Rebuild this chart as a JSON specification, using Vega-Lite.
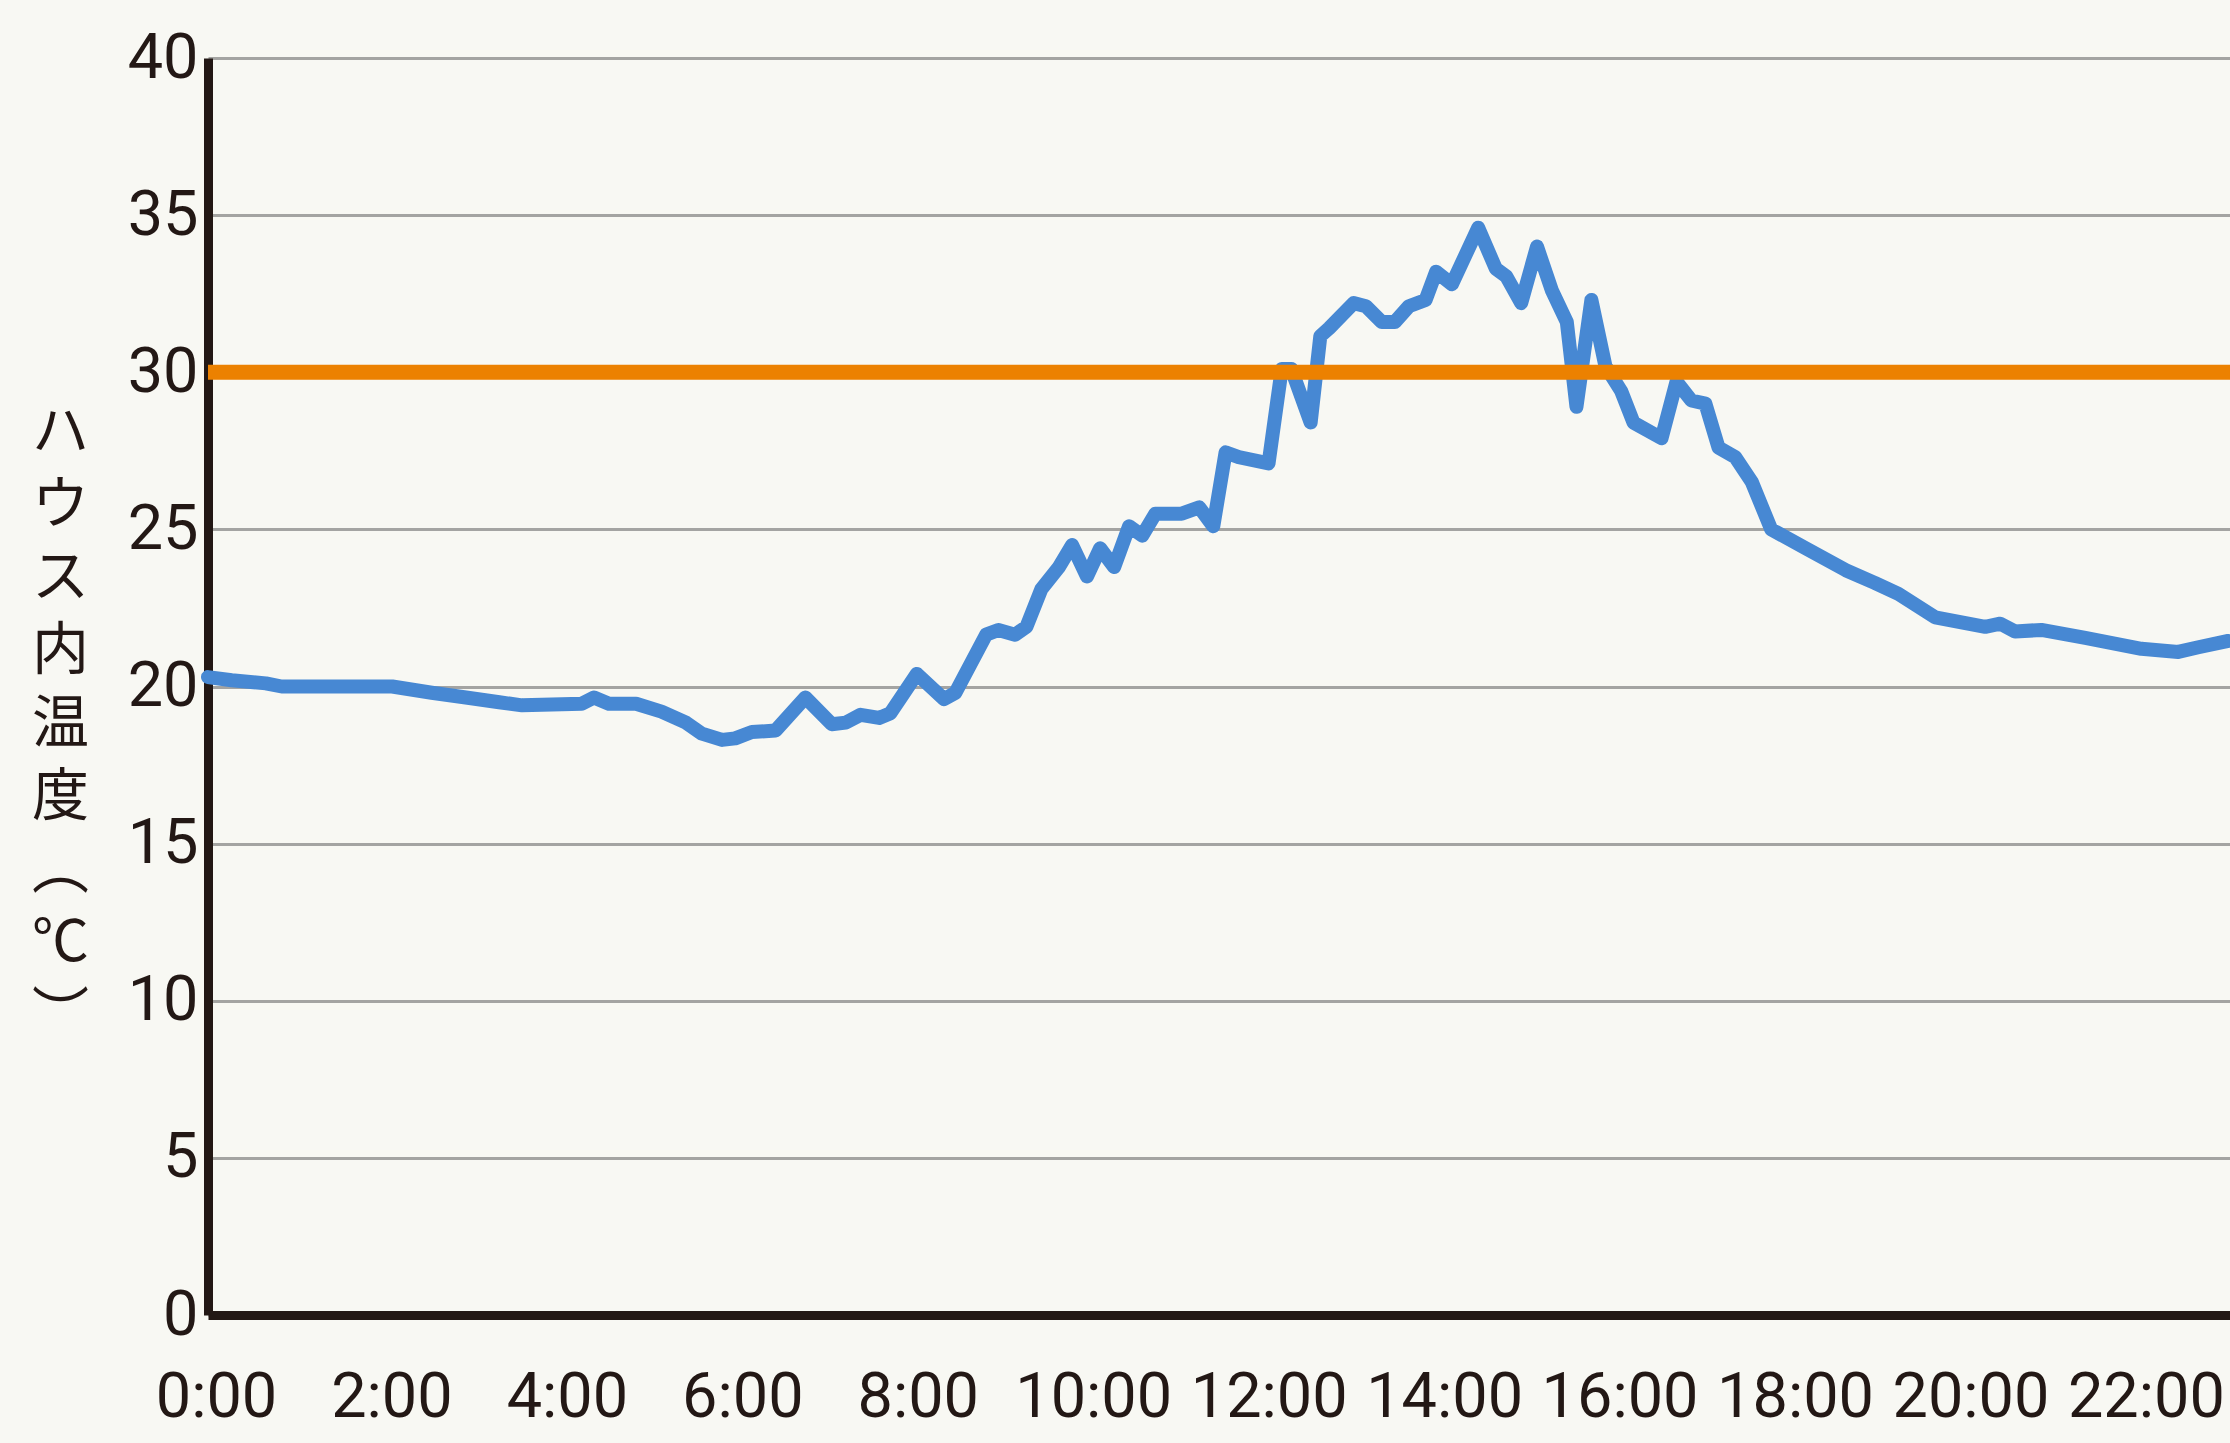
{
  "$schema": "https://vega.github.io/schema/vega-lite/v6.json",
  "width": 2022,
  "height": 1257,
  "autosize": {"type": "none"},
  "padding": {"left": 208, "top": 58, "right": 0, "bottom": 128},
  "background": "#f8f8f3",
  "config": {"view": {"stroke": null}},
  "layer": [
    {
      "data": {"values": [
        {"hour": 0.00, "temp": 20.3},
        {"hour": 0.27, "temp": 20.2},
        {"hour": 0.66, "temp": 20.1},
        {"hour": 0.84, "temp": 20.0},
        {"hour": 2.10, "temp": 20.0},
        {"hour": 2.55, "temp": 19.8},
        {"hour": 2.94, "temp": 19.65},
        {"hour": 3.32, "temp": 19.5},
        {"hour": 3.58, "temp": 19.4},
        {"hour": 4.26, "temp": 19.45},
        {"hour": 4.40, "temp": 19.65},
        {"hour": 4.57, "temp": 19.45},
        {"hour": 4.88, "temp": 19.45},
        {"hour": 5.17, "temp": 19.2},
        {"hour": 5.45, "temp": 18.85},
        {"hour": 5.63, "temp": 18.5},
        {"hour": 5.86, "temp": 18.3},
        {"hour": 6.01, "temp": 18.35},
        {"hour": 6.20, "temp": 18.55},
        {"hour": 6.47, "temp": 18.6},
        {"hour": 6.81, "temp": 19.65},
        {"hour": 7.11, "temp": 18.8},
        {"hour": 7.27, "temp": 18.85},
        {"hour": 7.44, "temp": 19.1},
        {"hour": 7.65, "temp": 19.0},
        {"hour": 7.78, "temp": 19.15},
        {"hour": 8.08, "temp": 20.4},
        {"hour": 8.39, "temp": 19.6},
        {"hour": 8.52, "temp": 19.8},
        {"hour": 8.87, "temp": 21.65},
        {"hour": 9.01, "temp": 21.8},
        {"hour": 9.20, "temp": 21.65},
        {"hour": 9.33, "temp": 21.9},
        {"hour": 9.50, "temp": 23.1},
        {"hour": 9.70, "temp": 23.8},
        {"hour": 9.85, "temp": 24.5},
        {"hour": 10.02, "temp": 23.5},
        {"hour": 10.17, "temp": 24.4},
        {"hour": 10.33, "temp": 23.8},
        {"hour": 10.50, "temp": 25.1},
        {"hour": 10.65, "temp": 24.8},
        {"hour": 10.80, "temp": 25.5},
        {"hour": 11.10, "temp": 25.5},
        {"hour": 11.30, "temp": 25.7},
        {"hour": 11.46, "temp": 25.1},
        {"hour": 11.60, "temp": 27.45},
        {"hour": 11.75, "temp": 27.3},
        {"hour": 12.09, "temp": 27.1},
        {"hour": 12.24, "temp": 30.1},
        {"hour": 12.35, "temp": 30.1},
        {"hour": 12.57, "temp": 28.4},
        {"hour": 12.68, "temp": 31.15},
        {"hour": 12.78, "temp": 31.4},
        {"hour": 13.06, "temp": 32.2},
        {"hour": 13.20, "temp": 32.1},
        {"hour": 13.38, "temp": 31.6},
        {"hour": 13.53, "temp": 31.6},
        {"hour": 13.69, "temp": 32.1},
        {"hour": 13.88, "temp": 32.3},
        {"hour": 14.00, "temp": 33.2},
        {"hour": 14.18, "temp": 32.8},
        {"hour": 14.48, "temp": 34.6},
        {"hour": 14.68, "temp": 33.3},
        {"hour": 14.80, "temp": 33.05},
        {"hour": 14.97, "temp": 32.2},
        {"hour": 15.15, "temp": 34.0},
        {"hour": 15.32, "temp": 32.6},
        {"hour": 15.49, "temp": 31.6},
        {"hour": 15.60, "temp": 28.9},
        {"hour": 15.77, "temp": 32.3},
        {"hour": 15.93, "temp": 30.2},
        {"hour": 16.11, "temp": 29.4},
        {"hour": 16.25, "temp": 28.4},
        {"hour": 16.57, "temp": 27.9},
        {"hour": 16.74, "temp": 29.7},
        {"hour": 16.91, "temp": 29.1},
        {"hour": 17.07, "temp": 29.0},
        {"hour": 17.22, "temp": 27.6},
        {"hour": 17.41, "temp": 27.3},
        {"hour": 17.60, "temp": 26.5},
        {"hour": 17.82, "temp": 25.0},
        {"hour": 18.21, "temp": 24.4},
        {"hour": 18.67, "temp": 23.7},
        {"hour": 19.00, "temp": 23.3},
        {"hour": 19.27, "temp": 22.95},
        {"hour": 19.69, "temp": 22.2},
        {"hour": 20.26, "temp": 21.9},
        {"hour": 20.43, "temp": 22.0},
        {"hour": 20.60, "temp": 21.75},
        {"hour": 20.90, "temp": 21.8},
        {"hour": 21.40, "temp": 21.55},
        {"hour": 22.04, "temp": 21.2},
        {"hour": 22.46, "temp": 21.1},
        {"hour": 22.69, "temp": 21.25},
        {"hour": 23.03, "temp": 21.45}
      ]},
      "mark": {"type": "line", "color": "#4788d3", "strokeWidth": 14, "strokeJoin": "round", "strokeCap": "round"},
      "encoding": {
        "x": {
          "field": "hour", "type": "quantitative",
          "scale": {"domain": [0, 23.05], "nice": false, "zero": false},
          "axis": {
            "values": [0, 2, 4, 6, 8, 10, 12, 14, 16, 18, 20, 22],
            "labelExpr": "datum.value + ':00'",
            "grid": false, "ticks": false, "tickSize": 0,
            "domainColor": "#231815", "domainWidth": 9,
            "labelFont": "Roboto", "labelFontSize": 63, "labelColor": "#231815",
            "labelBaseline": "alphabetic", "labelPadding": 101, "labelOffset": 8,
            "labelFlush": false, "labelOverlap": false, "labelBound": false,
            "title": null
          }
        },
        "y": {
          "field": "temp", "type": "quantitative",
          "scale": {"domain": [0, 40], "nice": false},
          "axis": {
            "values": [0, 5, 10, 15, 20, 25, 30, 35, 40],
            "grid": true, "gridColor": "#a4a4a2", "gridWidth": 3,
            "ticks": false, "tickSize": 0,
            "domainColor": "#231815", "domainWidth": 9,
            "labelFont": "Roboto", "labelFontSize": 63, "labelColor": "#231815",
            "labelPadding": 10, "labelBaseline": "middle",
            "labelFlush": false, "labelOverlap": false, "labelBound": false,
            "title": ["ハ", "ウ", "ス", "内", "温", "度", "︵", "℃", "︶"],
            "titleFont": "Noto Sans CJK JP", "titleFontSize": 57, "titleFontWeight": "normal",
            "titleColor": "#231815", "titleLineHeight": 73,
            "titleAngle": 0, "titleAlign": "center", "titleBaseline": "middle",
            "titleX": -148, "titleY": 374
          }
        }
      }
    },
    {
      "data": {"values": [{"threshold": 30}]},
      "mark": {"type": "rule", "color": "#ec8100", "strokeWidth": 15},
      "encoding": {
        "y": {"field": "threshold", "type": "quantitative"}
      }
    }
  ]
}
